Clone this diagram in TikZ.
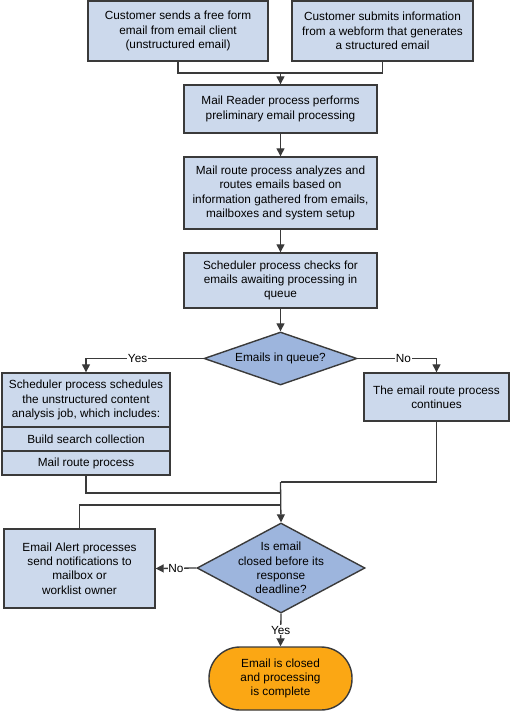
\documentclass[tikz,border=0pt]{standalone}
\usepackage{fontspec}
\setmainfont{Liberation Sans}
\usetikzlibrary{arrows.meta,shapes.geometric}
\definecolor{boxfill}{HTML}{CCD9EC}
\definecolor{dfill}{HTML}{9DB5DD}
\definecolor{termfill}{HTML}{FBA714}
\definecolor{edge}{HTML}{3A3A3A}
\begin{document}
\begin{tikzpicture}[x=1pt,y=-1pt,
  every node/.style={font=\fontsize{11.8}{14.4}\selectfont, text=black},
  procbox/.style={draw=edge, line width=1.4pt, fill=boxfill, inner sep=0pt, align=center},
  decis/.style={draw=edge, line width=1.4pt, fill=dfill, diamond, inner sep=0pt},
  term/.style={draw=edge, line width=1.4pt, fill=termfill, rounded corners=31pt, inner sep=0pt, align=center},
  conn/.style={draw=edge, line width=1.3pt},
  arr/.style={conn, -{Triangle[length=8pt,width=8pt]}},
  lbl/.style={fill=white, inner sep=1pt}
]
\useasboundingbox (0,0) rectangle (510,711);
% top boxes
\node[procbox, minimum width=180, minimum height=60] (c1) at (178,31)
  {Customer sends a free form\\email from email client\\(unstructured email)};
\node[procbox, minimum width=181, minimum height=60] (c2) at (382.5,31)
  {Customer submits information\\from a webform that generates\\a structured email};
\node[procbox, minimum width=193, minimum height=48] (mr) at (280.5,109)
  {Mail Reader process performs\\preliminary email processing};
\node[procbox, minimum width=193, minimum height=72] (route) at (280.5,193)
  {Mail route process analyzes and\\routes emails based on\\information gathered from emails,\\mailboxes and system setup};
\node[procbox, minimum width=193, minimum height=55] (chk) at (280.5,280.5)
  {Scheduler process checks for\\emails awaiting processing in\\queue};
% decision 1
\node[decis, minimum width=153, minimum height=53] (d1) at (280.5,358.5) {};
\node (d1t) at (d1.center) {Emails in queue?};
% left composite box
\node[procbox, minimum width=168, minimum height=54] (s1) at (86,400)
  {Scheduler process schedules\\the unstructured content\\analysis job, which includes:};
\node[procbox, minimum width=168, minimum height=24] (s2) at (86,439) {Build search collection};
\node[procbox, minimum width=168, minimum height=24] (s3) at (86,463) {Mail route process};
% right box
\node[procbox, minimum width=145, minimum height=48] (r) at (436.5,397)
  {The email route process\\continues};
% decision 2
\node[decis, minimum width=168, minimum height=90] (d2) at (281,568) {};
\node[align=center] (d2t) at (d2.center) {Is email\\closed before its\\response\\deadline?};
% email alert
\node[procbox, minimum width=151, minimum height=79] (ea) at (79.5,568.5)
  {Email Alert processes\\send notifications to\\mailbox or\\worklist owner};
% terminal
\node[term, minimum width=143, minimum height=63] (end) at (280.5,678.5)
  {Email is closed\\and processing\\is complete};
% junctions
\coordinate (j1) at (280.5,73);
\coordinate (j2) at (280.5,493);
\coordinate (j3) at (280.5,482);
\coordinate (j4) at (280.5,505);
% connectors
\draw[conn] (c1.south) |- (j1) -| (c2.south);
\draw[arr] (j1) -- (mr.north);
\draw[arr] (mr.south) -- (route.north);
\draw[arr] (route.south) -- (chk.north);
\draw[arr] (chk.south) -- (d1.north);
\draw[arr] (d1.west) -| node[lbl, pos=0.28] (yes1) {Yes} (s1.north);
\draw[arr] (d1.east) -| node[lbl, pos=0.29] (no1) {No} (r.north);
\draw[conn] (s3.south) |- (j2);
\draw[conn] (r.south) |- (j3);
\draw[conn] (ea.north) |- (j4);
\draw[arr] (j3) -- (d2.north);
\draw[arr] (d2.west) -- node[lbl, inner sep=0.5pt] (no2) {No} (ea.east);
\draw[arr] (d2.south) -- node[lbl] (yes2) {Yes} (end.north);
\end{tikzpicture}
\end{document}
